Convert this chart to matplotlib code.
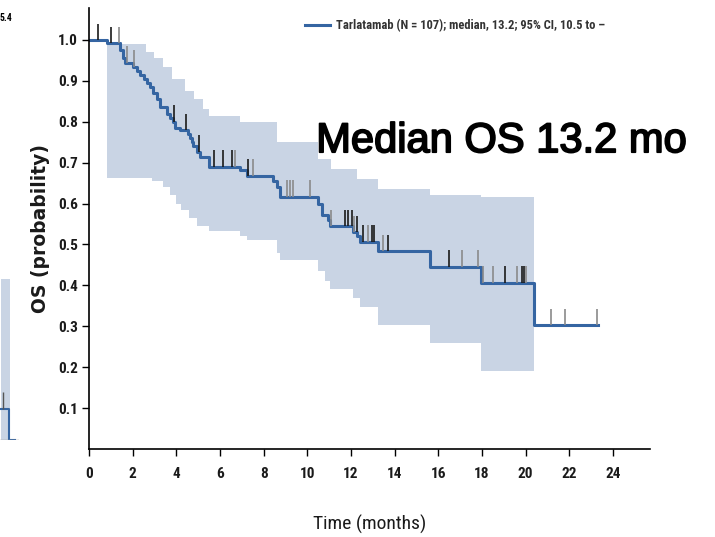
import numpy as np
import matplotlib
matplotlib.use('Agg')
import matplotlib.pyplot as plt
import matplotlib.patheffects as pe
from matplotlib import font_manager

# KM estimate (months, survival after step)
km_t = [0, 0.83, 1.42, 1.56, 1.65, 2.02, 2.2, 2.34, 2.5, 2.66, 2.8, 2.94, 3.12, 3.26,
        3.58, 3.72, 3.85, 3.94, 4.17, 4.54, 4.62, 4.7, 4.77, 4.95, 5.09, 5.5, 6.9,
        7.25, 8.44, 8.6, 8.76, 10.5, 10.69, 10.96, 11.06, 12.1, 12.3, 12.43, 13.25,
        15.64, 17.94, 20.37, 23.3]
km_s = [1.0, 0.992, 0.975, 0.955, 0.944, 0.935, 0.925, 0.915, 0.905, 0.895, 0.885, 0.87,
        0.855, 0.837, 0.82, 0.81, 0.80, 0.785, 0.78, 0.77, 0.76, 0.75, 0.74, 0.727,
        0.715, 0.69, 0.683, 0.668, 0.655, 0.64, 0.617, 0.60, 0.573, 0.56, 0.544, 0.53,
        0.52, 0.507, 0.483, 0.446, 0.407, 0.302, 0.302]

# 95% CI limits
ci_up_t = [0.83, 1.5, 2.6, 3.0, 3.4, 3.8, 4.4, 4.8, 5.2, 5.5, 6.9, 8.6, 10.5, 11.1,
           12.3, 13.25, 15.64, 17.94, 20.37]
ci_up = [0.995, 0.99, 0.97, 0.955, 0.935, 0.905, 0.875, 0.855, 0.83, 0.815, 0.80, 0.75,
         0.71, 0.685, 0.66, 0.635, 0.622, 0.615, 0.615]
ci_lo_t = [0.83, 2.9, 3.4, 3.7, 4.0, 4.2, 4.6, 4.95, 5.5, 6.9, 7.25, 8.6, 8.76, 10.5,
           10.8, 11.06, 12.1, 12.4, 13.25, 15.64, 17.94, 20.37]
ci_lo = [0.663, 0.654, 0.64, 0.62, 0.60, 0.585, 0.565, 0.545, 0.532, 0.52, 0.512, 0.48,
         0.463, 0.435, 0.41, 0.39, 0.37, 0.346, 0.302, 0.259, 0.19, 0.19]

# censored patients
censor_dark = [0.41, 1.01, 3.9, 4.45, 5.05, 5.73, 6.15, 6.56, 7.29, 11.74, 11.88, 12.06,
               12.29, 12.57, 12.98, 13.07, 13.72, 16.47, 19.08, 19.82, 19.91]
censor_grey = [1.38, 1.74, 2.06, 6.7, 7.52, 9.08, 9.22, 9.36, 10.14, 11.1, 12.16, 12.8,
               13.49, 17.11, 17.84, 18.03, 18.53, 19.59, 20.0, 21.15, 21.79, 23.26]

# neighbouring panel (only its tail shows at the left edge)
nb_t = [17.0, 18.2, 19.0]
nb_s = [0.1, 0.0, 0.0]
nb_ci_up = [0.52, 0.52]
nb_ci_t = [17.0, 18.3]
nb_censor = [17.3]

legend_label = 'Tarlatamab (N = 107); median, 13.2; 95% CI, 10.5 to \u2013'
xticks = list(range(0, 25, 2))
yticks = [0.1, 0.2, 0.3, 0.4, 0.5, 0.6, 0.7, 0.8, 0.9, 1.0]

blue = '#3565a2'
band = '#c9d4e4'

# pick a narrow face if one exists
installed = {f.name for f in font_manager.fontManager.ttflist}
narrow = [f for f in ['Liberation Sans Narrow', 'DejaVu Sans Condensed', 'Roboto Condensed',
                      'Liberation Sans'] if f in installed] + ['DejaVu Sans']
narrow = narrow[:1] + ['DejaVu Sans']


def step_at(knots, vals, t):
    idx = np.searchsorted(knots, t, side='right') - 1
    return np.asarray(vals)[np.clip(idx, 0, len(vals) - 1)]


fig = plt.figure(figsize=(7.15, 5.37), dpi=100)
ax = fig.add_axes([89 / 715, 88 / 537, 561 / 715, 441 / 537])

grid = np.union1d(ci_up_t, ci_lo_t)
ax.fill_between(grid, step_at(ci_lo_t, ci_lo, grid), step_at(ci_up_t, ci_up, grid),
                step='post', color=band, lw=0)
ax.step(km_t, km_s, where='post', color=blue, lw=2.2, label=legend_label)

for times, col in [(censor_grey, '#8a8a8a'), (censor_dark, '#1a1a1a')]:
    ys = step_at(km_t, km_s, np.array(times))
    ax.vlines(times, ys, ys + 0.04, color=col, lw=1.2)

ax.set_xlim(0, 25.7)
ax.set_ylim(0, 1.078)
ax.set_xticks(xticks)
ax.set_yticks(yticks)
ax.set_yticklabels(['%.1f' % v for v in yticks])
ax.spines['top'].set_visible(False)
ax.spines['right'].set_visible(False)
ax.spines['left'].set_linewidth(1.2)
ax.spines['bottom'].set_linewidth(1.2)
ax.tick_params(direction='out', length=5, width=1, labelsize=11, labelcolor='#1a1a1a')
ax.tick_params(axis='x', pad=8)
ax.tick_params(axis='y', pad=3)
for lab in ax.get_xticklabels() + ax.get_yticklabels():
    lab.set_family(narrow)
    lab.set_fontweight('bold')

ax.set_xlabel('Time (months)', fontsize=14, family=narrow, labelpad=24, color='#1a1a1a')
ax.set_ylabel('OS (probability)', fontsize=13.5, fontweight='bold',
              labelpad=6, color='#1a1a1a')

leg = ax.legend(loc='upper left', bbox_to_anchor=(0.365, 1.0), frameon=False,
                handlelength=2.0, handletextpad=0.5,
                prop={'family': narrow, 'size': 9, 'weight': 'bold'})
for txt in leg.get_texts():
    txt.set_color('#333333')

ax.text(0.405, 0.698, 'Median OS 13.2 mo', transform=ax.transAxes, fontsize=30,
        family=['Liberation Sans', 'DejaVu Sans'], color='black', va='center',
        path_effects=[pe.withStroke(linewidth=1.3, foreground='black')])

# tail of neighbouring panel
nb = fig.add_axes([0, 97 / 537, 19 / 715, 420 / 537])
nb.fill_between(nb_ci_t, [0, 0], nb_ci_up, step='post', color=band, lw=0)
nb.step(nb_t, nb_s, where='post', color=blue, lw=1.5)
nb.vlines(nb_censor, 0.1, 0.155, color='#555555', lw=1)
nb.set_xlim(16.8, 19.6)
nb.set_ylim(0, 1.355)
nb.axis('off')
nb.axhline(0, color='#999999', lw=1)
fig.text(0.0, 1 - 18 / 537, '5.4', fontsize=7, fontweight='bold', family=narrow,
         va='center', ha='left')

fig.savefig('out.png', dpi=100)
